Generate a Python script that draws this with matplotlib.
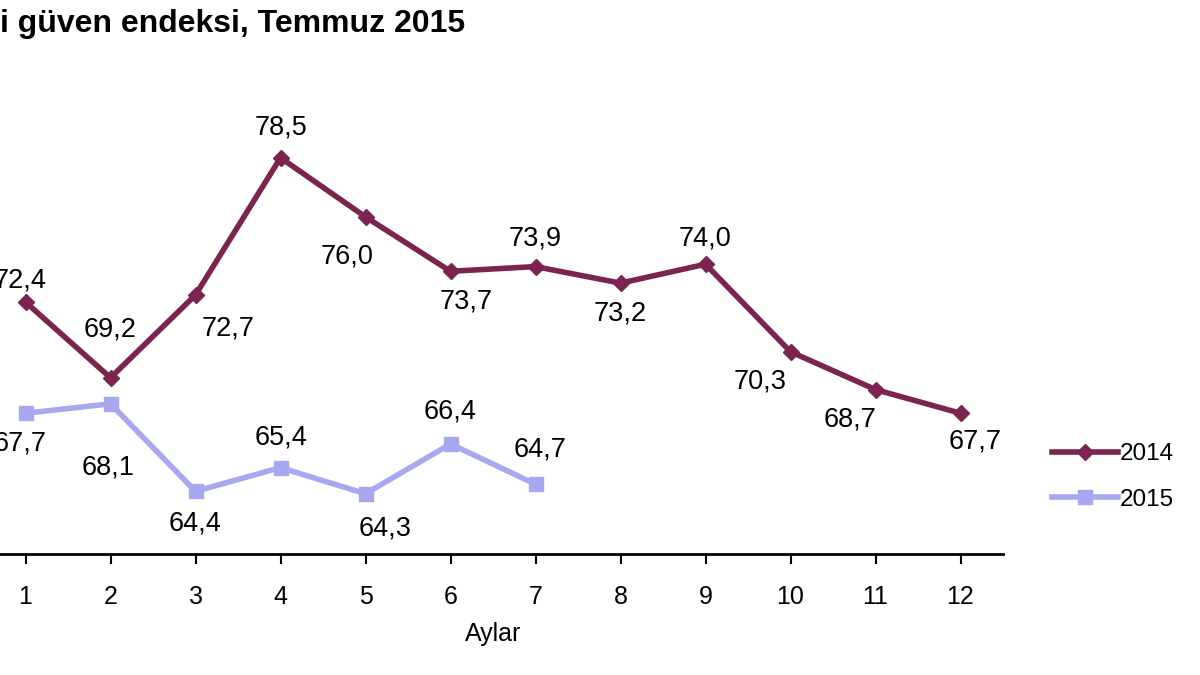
import numpy as np
import matplotlib
matplotlib.use('Agg')
import matplotlib.pyplot as plt

plt.rcParams['font.family'] = ['Liberation Sans', 'DejaVu Sans']

# data
months = np.arange(1, 13)
tick_labels = [str(m) for m in months]
values_2014 = [72.4, 69.2, 72.7, 78.5, 76.0, 73.7, 73.9, 73.2, 74.0, 70.3, 68.7, 67.7]
values_2015 = [67.7, 68.1, 64.4, 65.4, 64.3, 66.4, 64.7]
months_2015 = months[:len(values_2015)]

# label offsets in pixels (dx, dy)
off_2014 = [(-5, 22), (0, 48), (33, -34), (0, 30), (-18, -40), (16, -30), (0, 28), (0, -30), (0, 26), (-30, -30), (-25, -30), (15, -28)]
off_2015 = [(-5, -30), (-2, -64), (0, -32), (0, 30), (20, -35), (0, 32), (5, 35)]

c2014 = '#7b2450'
c2015 = '#a8a8f0'

fig = plt.figure(figsize=(12, 6.75), dpi=100)
ax = fig.add_axes([-17 / 1200, 121 / 675, 1020 / 1200, 550 / 675])

l1, = ax.plot(months, values_2014, color=c2014, lw=4, marker='D', ms=8, label='2014')
l2, = ax.plot(months_2015, values_2015, color=c2015, lw=4, marker='s', ms=10, label='2015')

def fmt(v):
    return ('%.1f' % v).replace('.', ',')

for x, v, o in zip(months, values_2014, off_2014):
    ax.annotate(fmt(v), (x, v), xytext=o, textcoords='offset pixels', ha='center', va='center',
                fontsize=19.5, annotation_clip=False)
for x, v, o in zip(months_2015, values_2015, off_2015):
    ax.annotate(fmt(v), (x, v), xytext=o, textcoords='offset pixels', ha='center', va='center',
                fontsize=19.5, annotation_clip=False)

ax.set_xlim(0.5, 12.5)
ax.set_ylim(61.75, 85)
ax.set_xticks(months)
ax.set_xticklabels(tick_labels, fontsize=18)
ax.set_yticks([])
for s in ['top', 'right', 'left']:
    ax.spines[s].set_visible(False)
ax.spines['bottom'].set_linewidth(2)
ax.tick_params(axis='x', direction='out', length=7, width=1.5, pad=15)
ax.set_xlabel('Aylar', fontsize=18, labelpad=10)

fig.text(0.0, 0.965, 'i güven endeksi, Temmuz 2015', fontsize=23, fontweight='bold', ha='left', va='center')

fig.legend(handles=[l1, l2], loc='center left', bbox_to_anchor=(1040 / 1200, 1 - 477 / 675), frameon=False,
           fontsize=17.5, handlelength=2.7, handletextpad=0.1, labelspacing=0.95, borderpad=0)

fig.savefig('out.png', dpi=100)
